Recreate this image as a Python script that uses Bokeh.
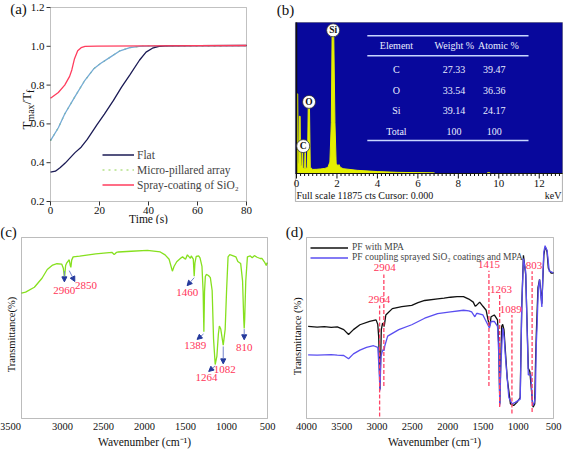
import numpy as np
from bokeh.plotting import figure
from bokeh.layouts import column, row
from bokeh.models import (Range1d, Arrow, NormalHead, Legend, LegendItem,
                          ColumnDataSource, BoxAnnotation)
from bokeh.core.properties import value
from bokeh.embed import file_html
from bokeh.resources import INLINE

FONT = "Liberation Serif"

# ---------------- (a) data ----------------
A_FLAT_T = [0, 2, 4, 6, 8, 10, 12.5, 15, 19, 22, 25.7, 29, 32.4, 36.3, 39, 41.6, 44.3, 47, 60, 80]
A_FLAT_V = [0.351, 0.356, 0.375, 0.398, 0.425, 0.452, 0.480, 0.52, 0.596, 0.65, 0.721, 0.79,
            0.853, 0.928, 0.97, 0.99, 1.0, 1.002, 1.003, 1.004]
A_MICRO_T = [0, 3.2, 5.8, 9.8, 13.8, 17.8, 20.4, 24.4, 28.4, 32.4, 36.3, 40.3, 50, 80]
A_MICRO_V = [0.514, 0.580, 0.651, 0.737, 0.820, 0.886, 0.911, 0.944, 0.977, 0.993, 1.0, 1.001,
             1.002, 1.003]
A_SPRAY_T = [0, 3.2, 5.8, 7.8, 8.7, 9.8, 11.1, 12.5, 14.1, 19.1, 40, 80]
A_SPRAY_V = [0.732, 0.762, 0.800, 0.845, 0.878, 0.936, 0.977, 0.993, 1.0, 1.001, 1.002, 1.004]
A_XLIM = (0, 80)
A_YLIM = (0.2, 1.2)
A_XTICKS = [0, 20, 40, 60, 80]
A_YTICKS = [0.2, 0.4, 0.6, 0.8, 1.0, 1.2]
A_LABELS = ["Flat", "Micro-pillared array", "Spray-coating of SiO\u2082"]
A_XLABEL = "Time (s)"
A_YLABEL_PARTS = ["T", "max", "/T", "f"]

# ---------------- (b) data ----------------
B_KEV = [0.0, 0.02, 0.06, 0.08, 0.12, 0.14, 0.18, 0.20, 0.26, 0.28, 0.30, 0.32, 0.40, 0.42,
         0.44, 0.46, 0.54, 0.58, 0.64, 0.68, 0.80, 1.00, 1.20, 1.40, 1.55, 1.65, 1.72, 1.76,
         1.84, 1.90, 1.96, 2.04, 2.10, 2.16, 2.30, 3.00, 4.00, 5.00, 6.00, 6.80, 6.85, 9.40,
         9.45, 9.55, 9.60, 13.15]
B_CTS = [0, 6260, 6260, 800, 800, 4500, 4500, 600, 600, 2000, 2000, 400, 400, 1900,
         1900, 400, 450, 5300, 5300, 500, 320, 330, 360, 400, 480, 900, 4000, 11100,
         11100, 4000, 800, 600, 700, 500, 380, 250, 150, 90, 70, 50, 0, 0,
         60, 60, 0, 0]
B_FULL = 11875
B_CURSOR = 0.0
B_XLIM = (-0.05, 13.15)
B_MAJOR = [0, 2, 4, 6, 8, 10, 12]
B_MINOR = [round(0.2 * i, 1) for i in range(66) if (i % 10) != 0]
B_PEAK_EL = ["Si", "O", "C"]
B_PEAK_KEV = [1.81, 0.62, 0.33]
B_PEAK_CTS = [11263, 5631, 2154]
B_TAB_HEAD = ["Element", "Weight %", "Atomic %"]
B_TAB_EL = ["C", "O", "Si", "Total"]
B_TAB_WT = ["27.33", "33.54", "39.14", "100"]
B_TAB_AT = ["39.47", "36.36", "24.17", "100"]

# ---------------- (c) data ----------------
C_WN = [3500, 3450, 3343, 3250, 3186, 3120, 3068, 3010, 2990, 2975, 2962, 2950, 2918, 2905,
        2898, 2888, 2870, 2791, 2595, 2398, 2370, 2359, 2340, 2319, 2162, 1965, 1808, 1749,
        1700, 1660, 1640, 1607, 1560, 1536, 1500, 1477, 1440, 1430, 1405, 1394, 1385, 1370,
        1340, 1323, 1299, 1285, 1276, 1268, 1258, 1246, 1220, 1197, 1175, 1158, 1138, 1117,
        1099, 1087, 1070, 1040, 1016, 999, 981, 960, 942, 886, 862, 827, 804, 790, 784, 778,
        765, 745, 710, 686, 660, 627, 590, 568, 532, 515, 508, 500]
C_T = [69.3, 69.8, 72.5, 77.5, 82.3, 84.8, 85.5, 85.3, 83.0, 77.5, 84.5, 85.8, 87.7, 84.5,
       83.5, 87.5, 89.3, 89.7, 90.9, 91.8, 90.6, 91.0, 91.8, 92.0, 92.4, 92.9, 92.0, 90.4,
       88.0, 81.4, 84.0, 86.6, 88.5, 89.3, 88.0, 90.4, 88.5, 89.8, 88.0, 78.6, 86.0, 89.5,
       89.8, 88.7, 84.0, 70.0, 47.9, 70.0, 78.5, 79.6, 79.0, 77.8, 70.7, 44.0, 29.8, 34.5,
       46.7, 51.1, 49.4, 40.5, 49.4, 70.7, 89.3, 90.5, 90.3, 89.3, 86.7, 85.6, 76.0, 55.0,
       49.8, 55.0, 76.0, 89.3, 89.8, 88.8, 90.0, 89.1, 88.4, 88.4, 86.1, 84.5, 85.8, 86.0]
C_XLIM = (3500, 500)
C_YLIM = (0, 100)
C_XTICKS = [3500, 3000, 2500, 2000, 1500, 1000, 500]
C_PEAK_TXT = ["2960", "2850", "1460", "1389", "1264", "1082", "810"]
C_PEAK_X = [2980, 2713, 1480, 1382, 1244, 1020, 784]
C_PEAK_Y = [70.7, 73.4, 69.8, 40.5, 22.4, 27.2, 39.1]
C_ARR_X0 = [2977, 2918, 1394, 1280, 1138, 1040, 784]
C_ARR_Y0 = [81.5, 81.7, 77.8, 46.7, 29.1, 39.8, 49.4]
C_ARR_X1 = [2977, 2850, 1480, 1359, 1217, 1040, 784]
C_ARR_Y1 = [75.5, 75.7, 73.4, 43.7, 26.0, 30.2, 43.5]
C_YLABEL = "Transmittance(%)"
XLABEL_WN = "Wavenumber (cm\u207b\u00b9)"

# ---------------- (d) data ----------------
D_K_WN = [3977, 3850, 3748, 3650, 3564, 3472, 3404, 3335, 3243, 3105, 3014, 2990, 2977, 2959,
          2940, 2922, 2899, 2876, 2784, 2650, 2509, 2420, 2325, 2142, 2050, 1959, 1867, 1775,
          1700, 1637, 1610, 1591, 1546, 1500, 1454, 1430, 1408, 1395, 1385, 1339, 1293, 1275,
          1261, 1245, 1234, 1220, 1202, 1156, 1110, 1064, 1018, 972, 960, 949, 926, 894, 857,
          835, 800, 789, 766, 755, 743, 720, 697, 680, 665, 637, 619, 605, 591, 573, 536, 500]
D_K_T = [50.9, 50.5, 50.8, 50.3, 50.6, 49.1, 46.4, 49.1, 51.8, 53.6, 54.5, 52.0, 45.0, 16.1,
         49.1, 52.7, 50.9, 57.2, 60.7, 61.8, 62.5, 64.0, 65.2, 66.1, 66.5, 67.0, 67.3, 67.3,
         66.0, 64.3, 62.0, 62.5, 64.3, 62.0, 59.8, 55.0, 50.9, 53.0, 56.2, 57.2, 54.5, 40.0,
         8.1, 35.0, 50.9, 52.0, 49.1, 22.3, 8.1, 7.2, 8.9, 11.6, 40.0, 63.4, 90.2, 79.5, 27.7,
         25.9, 10.0, 6.3, 8.1, 30.0, 47.3, 72.3, 76.8, 70.0, 63.4, 90.2, 94.6, 94.0, 92.0, 83.0,
         80.4, 80.4]
D_B_WN = [3977, 3850, 3748, 3650, 3564, 3472, 3404, 3335, 3243, 3150, 3050, 2990, 2975, 2959,
          2945, 2930, 2910, 2900, 2890, 2850, 2692, 2509, 2325, 2142, 1959, 1775, 1700, 1660,
          1614, 1590, 1568, 1500, 1454, 1420, 1408, 1395, 1385, 1339, 1293, 1275, 1261, 1245,
          1220, 1200, 1179, 1133, 1087, 1041, 972, 960, 949, 926, 894, 857, 820, 800, 789, 770,
          757, 745, 734, 715, 697, 680, 665, 650, 637, 619, 605, 591, 560, 530, 500]
D_B_T = [35.2, 35.0, 35.2, 35.3, 35.0, 34.8, 33.0, 35.7, 37.8, 39.3, 40.2, 39.3, 30.0, 15.5,
         34.0, 36.6, 38.4, 37.5, 40.2, 45.5, 49.1, 51.8, 55.4, 58.0, 58.9, 59.8, 59.5, 58.9,
         56.2, 58.0, 58.0, 57.2, 53.6, 51.0, 50.0, 52.0, 53.6, 53.6, 50.9, 35.0, 7.2, 30.0,
         50.0, 45.0, 33.0, 11.6, 8.1, 8.9, 10.7, 38.0, 62.5, 88.4, 81.3, 24.1, 24.1, 9.0, 7.2,
         9.0, 11.6, 40.0, 50.0, 72.0, 76.8, 68.0, 61.6, 80.0, 92.0, 95.5, 94.0, 92.9, 81.3,
         81.0, 80.4]
D_XLIM = (4000, 500)
D_YLIM = (0, 100)
D_XTICKS = [4000, 3500, 3000, 2500, 2000, 1500, 1000, 500]
D_PEAK_WN = [2964, 2904, 1415, 1263, 1089, 803]
D_PEAK_TXT = ["2964", "2904", "1415", "1263", "1089", "803"]
D_TXT_X = [2968, 2890, 1413, 1243, 1106, 775]
D_TXT_Y = [65.7, 83.4, 84.9, 71.4, 60.2, 84.4]
D_DASH_TOP = [62.5, 79.5, 81.6, 68.4, 57.2, 81.3]
D_DASH_BOT = [1.1, 17.9, 17.9, 6.3, 2.7, 3.6]
D_LABELS = ["PF with MPA", "PF coupling sprayed SiO\u2082 coatings and MPA"]
D_YLABEL = "Transmittance (%)"

RED = "#ff3358"
INK = "#111111"


def panel(W, H, L, R, T, B, xlim, ylim):
    """Figure whose frame fills the canvas; the drawn axes box spans canvas px L..R, T..B."""
    xa, xb = xlim
    ya, yb = ylim
    ux = (xb - xa) / (R - L)
    uy = (yb - ya) / (B - T)
    p = figure(width=W, height=H,
               x_range=Range1d(xa - L * ux, xb + (W - R) * ux),
               y_range=Range1d(ya - (H - B) * uy, yb + T * uy),
               x_axis_location=None, y_axis_location=None,
               min_border=0, min_border_left=0, min_border_right=0,
               min_border_top=0, min_border_bottom=0,
               output_backend="svg", toolbar_location=None)
    p.outline_line_color = None
    p.xgrid.visible = False
    p.ygrid.visible = False
    p.background_fill_color = "white"
    p.border_fill_color = "white"
    return p, ux, uy


def box(p, xlim, ylim, color=INK, width=1.0):
    p.add_layout(BoxAnnotation(left=min(xlim), right=max(xlim), bottom=ylim[0], top=ylim[1],
                               fill_color=None, fill_alpha=0, line_color=color, line_width=width,
                               level="overlay"))


def txt(p, x, y, text, size, align="center", baseline="middle", color=INK, angle=0.0,
        xo=0, yo=0, style="normal"):
    p.text(x=x, y=y, text=text, text_font=value(FONT), text_font_size=size,
           text_align=align, text_baseline=baseline, text_color=color, angle=angle,
           x_offset=xo, y_offset=yo, text_font_style=style)


# ================= panel (a) =================
pa, ax_u, ay_u = panel(276, 224, 50, 246, 7, 201, A_XLIM, A_YLIM)
AX_COL = "#333333"
pa.segment(x0=A_XTICKS, y0=A_YLIM[0], x1=A_XTICKS, y1=A_YLIM[0] - 4 * ay_u, line_color=AX_COL)
pa.segment(x0=A_XLIM[0], y0=A_YTICKS, x1=A_XLIM[0] - 4 * ax_u, y1=A_YTICKS, line_color=AX_COL)
txt(pa, A_XTICKS, [A_YLIM[0]] * len(A_XTICKS), ["%d" % t for t in A_XTICKS], "11px",
    baseline="top", yo=5)
txt(pa, [A_XLIM[0]] * len(A_YTICKS), A_YTICKS, ["%.1f" % t for t in A_YTICKS], "11px",
    align="right", xo=-6)

r_green = pa.line(A_MICRO_T, A_MICRO_V, line_color="#8fd14f", line_dash="dotted", line_width=1.2)
r_micro = pa.line(A_MICRO_T, A_MICRO_V, line_color="#74aad6", line_width=1.3)
r_flat = pa.line(A_FLAT_T, A_FLAT_V, line_color="#1b1b55", line_width=1.3)
r_spray = pa.line(A_SPRAY_T, A_SPRAY_V, line_color="#ff3d5e", line_width=1.3)
box(pa, A_XLIM, A_YLIM, AX_COL)

leg_a = Legend(items=[LegendItem(label=A_LABELS[0], renderers=[r_flat]),
                      LegendItem(label=A_LABELS[1], renderers=[r_green]),
                      LegendItem(label=A_LABELS[2], renderers=[r_spray])],
               location=(102, 32), margin=0, padding=0, spacing=0,
               label_height=15, glyph_height=15, glyph_width=32, label_standoff=3,
               label_text_font=FONT, label_text_font_size="11.5px",
               background_fill_alpha=0, border_line_color=None)
pa.add_layout(leg_a)

txt(pa, [A_XLIM[0]], [A_YLIM[1]], ["(a)"], "15px", xo=-32, yo=1)
txt(pa, [sum(A_XLIM) / 2], [A_YLIM[0]], [A_XLABEL], "11.5px", yo=17)
# rotated y label  T_max / T_f  built from pieces (text runs upward);
# (px left of the box, px above the label middle, font size)
ymid = 0.674
pieces = [(24.0, -16.0, "13px"), (20.5, -3.5, "10px"), (24.0, 10.9, "13px"), (20.5, 18.3, "10px")]
for (dxp, dyp, fs), part in zip(pieces, A_YLABEL_PARTS):
    txt(pa, [A_XLIM[0] - dxp * ax_u], [ymid + dyp * ay_u], [part], fs, angle=np.pi / 2)

# ================= panel (b) =================
BLUE = "#08089c"
YEL = "#e4ef00"
B_LOW = -B_FULL * 28 / 151
B_YLIM = (B_LOW, B_FULL)
pb, bx_u, by_u = panel(287, 224, 19, 286, 22, 201, B_XLIM, B_YLIM)
pb.add_layout(BoxAnnotation(left=B_XLIM[0], right=B_XLIM[1], bottom=0, top=B_FULL,
                            fill_color=BLUE, fill_alpha=1, line_color=None, level="underlay"))
pb.varea(x=B_KEV, y1=0, y2=B_CTS, fill_color=YEL)
pb.line(B_KEV, B_CTS, line_color=YEL, line_width=1)
pb.segment(x0=[B_CURSOR], y0=[0], x1=[B_CURSOR], y1=[B_FULL], line_color=INK, line_width=1.5)
pb.segment(x0=B_XLIM[0], y0=0, x1=B_XLIM[1], y1=0, line_color=INK, line_width=1)
pb.segment(x0=B_MAJOR, y0=0, x1=B_MAJOR, y1=-5 * by_u, line_color=INK, line_width=1)
pb.segment(x0=B_MINOR, y0=0, x1=B_MINOR, y1=-2.5 * by_u, line_color=INK, line_width=1)
txt(pb, B_MAJOR, [0] * len(B_MAJOR), [str(v) for v in B_MAJOR], "11px", baseline="top", yo=6)
txt(pb, [B_XLIM[0]], [0], ["Full scale %d cts Cursor: %.3f" % (B_FULL, B_CURSOR)], "10px",
    align="left", xo=1, yo=22)
txt(pb, [B_XLIM[1]], [0], ["keV"], "10px", align="right", xo=-1, yo=22)
box(pb, B_XLIM, B_YLIM, INK, 1.2)

TAB_LINE_Y = [10830, 9260, 2590]
TAB_COL_X = [4.94, 7.8, 9.98]
pb.segment(x0=3.5, y0=TAB_LINE_Y, x1=11.47, y1=TAB_LINE_Y, line_color="#c8d6ff", line_width=1.4)
TCOL = "#e8eeff"
txt(pb, TAB_COL_X, [10070] * 3, B_TAB_HEAD, "10px", color=TCOL)
ROW_Y = [8165 - 1613 * i for i in range(len(B_TAB_EL))]
txt(pb, [TAB_COL_X[0]] * 4, ROW_Y, B_TAB_EL, "10px", color=TCOL)
txt(pb, [7.78] * 4, ROW_Y, B_TAB_WT, "10px", color=TCOL)
txt(pb, [9.78] * 4, ROW_Y, B_TAB_AT, "10px", color=TCOL)

pb.scatter(x=B_PEAK_KEV, y=B_PEAK_CTS, size=13, fill_color="white", line_color="#333333",
           line_width=0.8)
txt(pb, B_PEAK_KEV, B_PEAK_CTS, B_PEAK_EL, "9.5px", style="bold")
txt(pb, [B_XLIM[0]], [B_FULL], ["(b)"], "15px", xo=-10, yo=-13)

# ================= panel (c) =================
pc, cx_u, cy_u = panel(276, 226, 21, 267, 13, 194, C_XLIM, C_YLIM)
pc.line(C_WN, C_T, line_color="#86e01e", line_width=1.3)
# first tick label sits flush with the left edge in the original
txt(pc, C_XTICKS[:1], [C_YLIM[0]], ["%d" % C_XTICKS[0]], "10.5px", baseline="top", yo=4, xo=-11)
txt(pc, C_XTICKS[1:], [C_YLIM[0]] * (len(C_XTICKS) - 1), ["%d" % t for t in C_XTICKS[1:]],
    "10.5px", baseline="top", yo=4)
box(pc, C_XLIM, C_YLIM, "#222222")
arr_src = ColumnDataSource(dict(x0=C_ARR_X0, y0=C_ARR_Y0, x1=C_ARR_X1, y1=C_ARR_Y1))
pc.add_layout(Arrow(source=arr_src, x_start="x0", y_start="y0", x_end="x1", y_end="y1",
                    line_color="#7383cc", line_width=1,
                    end=NormalHead(size=5, fill_color="#24399c", line_color="#24399c")))
txt(pc, C_PEAK_X, C_PEAK_Y, C_PEAK_TXT, "11px", color=RED)
txt(pc, [C_XLIM[0]], [C_YLIM[1]], ["(c)"], "15px", xo=-13, yo=-6)
txt(pc, [C_XLIM[0] - 10.5 * cx_u], [46.4], [C_YLABEL], "10.5px", angle=np.pi / 2)
txt(pc, [2000], [C_YLIM[0]], [XLABEL_WN], "11.5px", yo=23)

# ================= panel (d) =================
pd, dx_u, dy_u = panel(287, 226, 30, 277, 13, 194, D_XLIM, D_YLIM)
txt(pd, D_XTICKS, [D_YLIM[0]] * len(D_XTICKS), ["%d" % t for t in D_XTICKS], "10.5px",
    baseline="top", yo=4)
r_k = pd.line(D_K_WN, D_K_T, line_color=INK, line_width=1.3)
r_b = pd.line(D_B_WN, D_B_T, line_color="#5a4ef0", line_width=1.3)
pd.segment(x0=D_PEAK_WN, y0=D_DASH_BOT, x1=D_PEAK_WN, y1=D_DASH_TOP, line_color="#ff4466",
           line_width=1.3, line_dash="4 2")
txt(pd, D_TXT_X, D_TXT_Y, D_PEAK_TXT, "11px", color=RED)
box(pd, D_XLIM, D_YLIM, "#222222")
leg_d = Legend(items=[LegendItem(label=D_LABELS[0], renderers=[r_k]),
                      LegendItem(label=D_LABELS[1], renderers=[r_b])],
               location=(34, 188), margin=0, padding=0, spacing=-2,
               label_height=9, glyph_height=9, glyph_width=38, label_standoff=4,
               label_text_font=FONT, label_text_font_size="9.5px",
               background_fill_alpha=0, border_line_color=None)
pd.add_layout(leg_d)
txt(pd, [D_XLIM[0]], [D_YLIM[1]], ["(d)"], "15px", xo=-12, yo=-6)
txt(pd, [D_XLIM[0] - 9.5 * dx_u], [45.4], [D_YLABEL], "10.5px", angle=np.pi / 2)
txt(pd, [2187], [D_YLIM[0]], [XLABEL_WN], "11.5px", yo=23)

layout = column(row(pa, pb), row(pc, pd))
open("out.html", "w").write(file_html(layout, INLINE))
